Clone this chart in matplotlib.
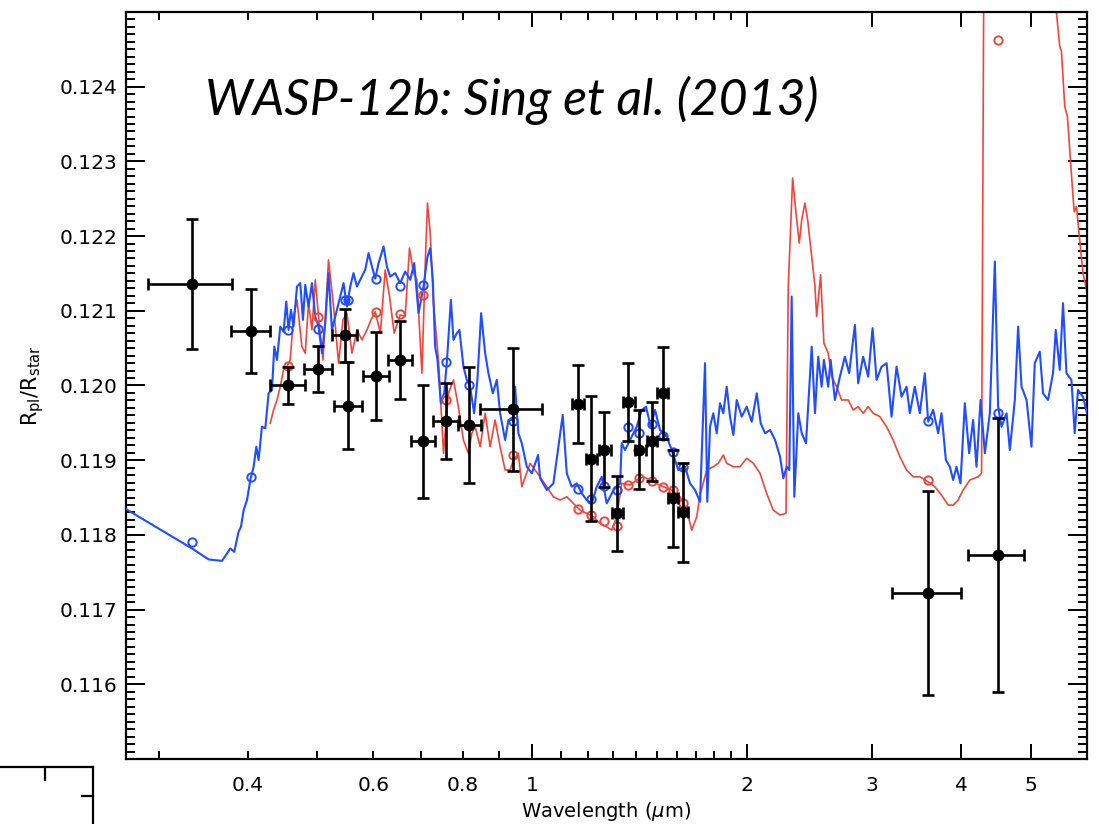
import matplotlib
matplotlib.use("Agg")
import matplotlib.pyplot as plt
import numpy as np
from matplotlib.lines import Line2D
from matplotlib.ticker import FixedLocator

# ---- measured transmission spectrum (binned) ----
wl = [0.334, 0.4045, 0.456, 0.5015, 0.547, 0.5535, 0.6046, 0.6534, 0.7035, 0.7591,
      0.8175, 0.9406, 1.162, 1.211, 1.264, 1.318, 1.3655, 1.415, 1.473, 1.526,
      1.576, 1.631, 3.594, 4.495]
wl_lo = [0.290, 0.379, 0.430, 0.480, 0.5245, 0.528, 0.5796, 0.6286, 0.6769, 0.7278,
         0.789, 0.8466, 1.140, 1.190, 1.242, 1.296, 1.341, 1.395, 1.449, 1.500,
         1.554, 1.605, 3.193, 4.088]
wl_hi = [0.380, 0.430, 0.481, 0.525, 0.5696, 0.579, 0.6306, 0.6798, 0.732, 0.7904,
         0.849, 1.0328, 1.185, 1.233, 1.290, 1.344, 1.395, 1.444, 1.500, 1.554,
         1.605, 1.658, 4.001, 4.892]
rp = [0.12136, 0.12073, 0.12000, 0.12022, 0.12067, 0.11973, 0.12013, 0.12034, 0.11925, 0.11952,
      0.11947, 0.11968, 0.11975, 0.11902, 0.11914, 0.11829, 0.11978, 0.11914, 0.11925, 0.11990,
      0.11849, 0.11830, 0.11722, 0.11773]
rp_err = [0.00087, 0.00056, 0.00025, 0.00031, 0.00035, 0.00058, 0.00059, 0.00052, 0.00076, 0.00051,
          0.00078, 0.00082, 0.00052, 0.00084, 0.00050, 0.00050, 0.00052, 0.00053, 0.00053, 0.00061,
          0.00065, 0.00066, 0.00137, 0.00183]

# ---- band-averaged model values at the data wavelengths ----
blue_binned = [0.11791, 0.11877, 0.12074, 0.12075, 0.12115, 0.12115, 0.12143, 0.12133, 0.12135, 0.12032,
               0.12001, 0.11952, 0.11862, 0.11848, 0.11865, 0.11860, 0.11945, 0.11937, 0.11949, 0.11933,
               0.11911, 0.11891, 0.11952, 0.11963]
red_binned = [np.nan, np.nan, 0.12026, 0.12092, np.nan, np.nan, 0.12099, 0.12095, 0.12121, 0.11981,
              np.nan, 0.11907, 0.11835, 0.11827, 0.11818, 0.11812, 0.11867, 0.11876, 0.11872, 0.11864,
              0.11860, 0.11842, 0.11873, 0.12463]

# ---- blue model spectrum ----
blue_wl = [0.270, 0.3340, 0.3525, 0.3680, 0.3739, 0.3780, 0.3828, 0.3882, 0.3912, 0.3946,
           0.3989, 0.4032, 0.4075, 0.4111, 0.4141, 0.4186, 0.4232, 0.4277, 0.4324, 0.4356,
           0.4394, 0.4441, 0.4488, 0.4528, 0.4561, 0.4597, 0.4635, 0.4687, 0.4737, 0.4778,
           0.4814, 0.4865, 0.4919, 0.4972, 0.5025, 0.5081, 0.5135, 0.5189, 0.5247, 0.5303,
           0.5389, 0.5447, 0.5507, 0.5566, 0.5625, 0.5688, 0.5748, 0.5842, 0.5905, 0.5970,
           0.6034, 0.6099, 0.6198, 0.6265, 0.6332, 0.6435, 0.6539, 0.6646, 0.6755, 0.6843,
           0.6938, 0.7050, 0.7142, 0.7205, 0.7266, 0.7320, 0.7376, 0.7456, 0.7537, 0.7603,
           0.7702, 0.7766, 0.7852, 0.7918, 0.8020, 0.8109, 0.8196, 0.8302, 0.8390, 0.8492,
           0.8602, 0.8694, 0.8818, 0.8933, 0.9028, 0.9175, 0.9273, 0.9406, 0.9476, 0.9577,
           0.9683, 0.9840, 1.000, 1.0205, 1.027, 1.0496, 1.0722, 1.1050, 1.1195, 1.1377,
           1.1563, 1.1749, 1.1941, 1.2134, 1.2331, 1.2531, 1.2735, 1.3015, 1.3299, 1.3366,
           1.3511, 1.3730, 1.4030, 1.4259, 1.4458, 1.4680, 1.4884, 1.5126, 1.5457, 1.5708,
           1.6045, 1.6397, 1.6663, 1.6934, 1.7209, 1.7489, 1.7619, 1.7774, 1.7963, 1.8163,
           1.8356, 1.8552, 1.8758, 1.8958, 1.9164, 1.9373, 1.9688, 2.0008, 2.0334, 2.0665,
           2.0933, 2.1229, 2.1574, 2.1925, 2.2281, 2.2518, 2.2763, 2.2957, 2.3132, 2.3330,
           2.3632, 2.3894, 2.4226, 2.4676, 2.4940, 2.5200, 2.5480, 2.5668, 2.6026, 2.6231,
           2.6596, 2.7028, 2.7467, 2.7849, 2.8367, 2.8669, 2.9135, 2.9608, 3.0034, 3.0424,
           3.0919, 3.1421, 3.1931, 3.2450, 3.2977, 3.3513, 3.3870, 3.4420, 3.4980, 3.5549,
           3.5936, 3.6520, 3.7113, 3.7518, 3.8047, 3.8541, 3.8952, 3.9374, 3.9885, 4.0448,
           4.1012, 4.1545, 4.2000, 4.2555, 4.3147, 4.3848, 4.4561, 4.5036, 4.5536, 4.6277,
           4.6770, 4.7531, 4.8037, 4.8571, 4.9361, 5.0154, 5.0688, 5.1512, 5.2061, 5.2906,
           5.3766, 5.4239, 5.4941, 5.5527, 5.6144, 5.7056, 5.7664, 5.8278, 5.9225, 6.000]
blue_rp = [0.118345, 0.117818, 0.117671, 0.117652, 0.117752, 0.117818, 0.117773, 0.118041, 0.118108, 0.118332,
           0.118466, 0.118734, 0.118912, 0.119180, 0.119002, 0.119448, 0.119427, 0.119896, 0.119940, 0.120520,
           0.120342, 0.120788, 0.120721, 0.121123, 0.120744, 0.121012, 0.120788, 0.121324, 0.121370, 0.120878,
           0.121347, 0.121056, 0.121370, 0.120922, 0.120788, 0.120432, 0.120834, 0.121504, 0.120744, 0.120922,
           0.121190, 0.121370, 0.121056, 0.121324, 0.121504, 0.121324, 0.121414, 0.121548, 0.121772, 0.121592,
           0.121431, 0.121638, 0.121860, 0.121592, 0.121458, 0.121504, 0.121370, 0.121525, 0.121414, 0.121638,
           0.120968, 0.121324, 0.121726, 0.121839, 0.121414, 0.120520, 0.120342, 0.119762, 0.119896, 0.120319,
           0.121146, 0.120610, 0.120700, 0.120744, 0.120252, 0.120074, 0.119984, 0.119628, 0.120074, 0.120968,
           0.120432, 0.120164, 0.119896, 0.120074, 0.119628, 0.119270, 0.119538, 0.119538, 0.119984, 0.119360,
           0.119226, 0.118912, 0.118824, 0.119069, 0.118761, 0.118600, 0.118690, 0.119605, 0.118824, 0.118644,
           0.118690, 0.118556, 0.118466, 0.118422, 0.118644, 0.118778, 0.118422, 0.118600, 0.118690, 0.119226,
           0.119136, 0.119270, 0.119448, 0.119672, 0.119716, 0.119448, 0.119672, 0.119404, 0.119314, 0.119136,
           0.118868, 0.118912, 0.118690, 0.118600, 0.118443, 0.120298, 0.118443, 0.119448, 0.119628, 0.119360,
           0.119762, 0.119628, 0.119984, 0.119582, 0.119337, 0.119806, 0.119582, 0.119716, 0.119515, 0.119896,
           0.119494, 0.119360, 0.119404, 0.119270, 0.119046, 0.118757, 0.118912, 0.118868, 0.121190, 0.118510,
           0.119628, 0.119360, 0.119226, 0.120520, 0.119628, 0.120386, 0.119984, 0.120342, 0.119984, 0.120342,
           0.119806, 0.120118, 0.120386, 0.120164, 0.120811, 0.120030, 0.120386, 0.120118, 0.120767, 0.120074,
           0.120252, 0.120298, 0.119582, 0.120252, 0.119850, 0.119984, 0.119628, 0.119984, 0.119628, 0.120164,
           0.119515, 0.119672, 0.119360, 0.119628, 0.119002, 0.118912, 0.118734, 0.118912, 0.118690, 0.119762,
           0.119092, 0.119538, 0.118912, 0.119806, 0.119092, 0.119628, 0.121659, 0.119716, 0.119448, 0.119628,
           0.119136, 0.119806, 0.120788, 0.119984, 0.119806, 0.119180, 0.120298, 0.120453, 0.119896, 0.119806,
           0.120164, 0.120744, 0.120208, 0.121102, 0.120164, 0.120074, 0.119360, 0.119940, 0.119850, 0.119628]

# ---- red model spectrum ----
red_wl = [0.4300, 0.4346, 0.4394, 0.4441, 0.4488, 0.4538, 0.4586, 0.4635, 0.4687, 0.4762,
          0.4814, 0.4865, 0.4919, 0.4972, 0.5025, 0.5098, 0.5189, 0.5275, 0.5360, 0.5437,
          0.5507, 0.5597, 0.5688, 0.5781, 0.5875, 0.5951, 0.6034, 0.6134, 0.6231, 0.6319,
          0.6414, 0.6539, 0.6646, 0.6739, 0.6827, 0.6901, 0.7015, 0.7091, 0.7142, 0.7205,
          0.7280, 0.7400, 0.7521, 0.7641, 0.7766, 0.7890, 0.8020, 0.8150, 0.8241, 0.8328,
          0.8466, 0.8602, 0.8742, 0.8883, 0.9028, 0.9175, 0.9324, 0.9423, 0.9577, 0.9683,
          0.9945, 1.0271, 1.0496, 1.0722, 1.0955, 1.1195, 1.1436, 1.1685, 1.1941, 1.2198,
          1.2465, 1.2735, 1.2942, 1.3152, 1.3366, 1.3730, 1.4030, 1.4330, 1.4800, 1.5286,
          1.5708, 1.6133, 1.6488, 1.6756, 1.7029, 1.7209, 1.7585, 1.7963, 1.8255, 1.8552,
          1.8758, 1.9164, 1.9581, 2.0008, 2.0442, 2.0885, 2.1335, 2.1797, 2.2281, 2.2712,
          2.2880, 2.3204, 2.3457, 2.3707, 2.3894, 2.4143, 2.4356, 2.4676, 2.4940, 2.5073,
          2.5398, 2.5668, 2.6026, 2.6316, 2.6743, 2.7178, 2.7760, 2.8211, 2.8669, 2.9135,
          2.9608, 3.0090, 3.0748, 3.1421, 3.2095, 3.2797, 3.3513, 3.4240, 3.4980, 3.5936,
          3.6714, 3.7518, 3.8330, 3.8952, 3.9582, 4.0225, 4.1104, 4.2225, 4.2692, 4.3048,
          4.8000, 5.3977, 5.4941, 5.5245, 5.5835, 5.6324, 5.6741, 5.7345, 5.7570, 5.7984,
          5.8601, 5.9225, 6.000]
red_rp = [0.119494, 0.119672, 0.119806, 0.119984, 0.120208, 0.120252, 0.120342, 0.120922, 0.121146, 0.120520,
          0.120432, 0.121102, 0.120744, 0.121414, 0.120922, 0.120342, 0.121682, 0.121056, 0.120298, 0.120878,
          0.120968, 0.120432, 0.120744, 0.120610, 0.120744, 0.120878, 0.120989, 0.120700, 0.121548, 0.121190,
          0.120700, 0.120945, 0.120922, 0.121839, 0.121504, 0.121414, 0.120164, 0.121638, 0.122442, 0.122040,
          0.121102, 0.120342, 0.119092, 0.119896, 0.120074, 0.119716, 0.119270, 0.119092, 0.119360, 0.119448,
          0.119180, 0.119628, 0.119180, 0.119538, 0.119180, 0.118868, 0.118868, 0.119002, 0.119092, 0.118644,
          0.118958, 0.118778, 0.118644, 0.118510, 0.118466, 0.118510, 0.118422, 0.118332, 0.118288, 0.118242,
          0.118154, 0.118108, 0.118064, 0.118242, 0.118690, 0.118667, 0.118734, 0.118778, 0.118711, 0.118644,
          0.118600, 0.118510, 0.118332, 0.118064, 0.118242, 0.118533, 0.118868, 0.118912, 0.118958, 0.119069,
          0.118958, 0.118912, 0.118912, 0.119025, 0.118958, 0.118824, 0.118556, 0.118332, 0.118265, 0.118288,
          0.121324, 0.122777, 0.122308, 0.121906, 0.122218, 0.122442, 0.122218, 0.121726, 0.121324, 0.120922,
          0.121481, 0.120566, 0.120432, 0.120118, 0.119984, 0.119806, 0.119806, 0.119672, 0.119716, 0.119628,
          0.119716, 0.119628, 0.119582, 0.119448, 0.119270, 0.119046, 0.118868, 0.118778, 0.118778, 0.118711,
          0.118644, 0.118533, 0.118399, 0.118399, 0.118466, 0.118600, 0.118734, 0.118778, 0.118824, 0.126500,
          0.128000, 0.125300, 0.124540, 0.124473, 0.123736, 0.123602, 0.123156, 0.122530, 0.122325, 0.122396,
          0.121950, 0.121504, 0.121253]

x_major = [1, 2, 3, 4, 5]
x_minor = [0.3, 0.4, 0.5, 0.6, 0.7, 0.8, 0.9, 1.1, 1.2, 1.3, 1.4, 1.5, 1.6, 1.7, 1.8, 1.9]
x_minor_labels = ["", "0.4", "", "0.6", "", "0.8", "", "", "", "", "", "", "", "", "", ""]
y_major = [0.116, 0.117, 0.118, 0.119, 0.120, 0.121, 0.122, 0.123, 0.124]

title_text = "WASP-12b: Sing et al. (2013)"
BLUE = "#1f4dff"
RED = "#f0463a"

fig = plt.figure(figsize=(10.99, 8.24), dpi=100)
ax = fig.add_axes([0.1147, 0.0789, 0.8744, 0.9066])

ax.plot(red_wl, red_rp, color=RED, lw=1.2, zorder=2)
ax.plot(blue_wl, blue_rp, color=BLUE, lw=1.5, zorder=3)

ax.plot(wl, red_binned, ls="none", marker="o", ms=6, mfc="none", mec=RED, mew=1.4, zorder=4)
ax.plot(wl, blue_binned, ls="none", marker="o", ms=6, mfc="none", mec=BLUE, mew=1.4, zorder=4)

xerr = [np.array(wl) - np.array(wl_lo), np.array(wl_hi) - np.array(wl)]
ax.errorbar(wl, rp, yerr=rp_err, xerr=xerr, fmt="o", color="black", ms=7.5,
            elinewidth=1.9, capsize=4.5, capthick=1.9, zorder=5)

ax.set_xscale("log")
ax.set_xlim(0.27, 6.0)
ax.set_ylim(0.115, 0.125)

ax.set_xticks(x_major, [str(v) for v in x_major])
ax.set_xticks(x_minor, x_minor_labels, minor=True)
ax.set_yticks(y_major, [f"{v:.3f}" for v in y_major])
ax.yaxis.set_minor_locator(FixedLocator(np.arange(0.1150, 0.12501, 0.0001)))

for s in ax.spines.values():
    s.set_linewidth(1.6)

ax.tick_params(axis="both", which="both", direction="in", top=True, right=True,
               labelsize=14.5, width=1.4, colors="black")
ax.tick_params(axis="x", which="major", length=11, pad=12)
ax.tick_params(axis="x", which="minor", length=5.5, pad=12)
ax.tick_params(axis="y", which="major", length=14, pad=6)
ax.tick_params(axis="y", which="minor", length=6.5, pad=6)

ax.set_xlabel(r"Wavelength ($\mu$m)", fontsize=14, labelpad=4)
ax.set_ylabel(r"$\mathrm{R_{pl}/R_{star}}$", fontsize=15, labelpad=10)

ax.text(0.082, 0.862, title_text, transform=ax.transAxes, fontsize=36,
        family="Lato", style="italic", ha="left", va="baseline")

# partial frame of a neighbouring panel in the lower-left corner
frame_kw = dict(color="black", lw=1.6, transform=fig.transFigure)
fig.add_artist(Line2D([0.0, 0.0846], [0.0692, 0.0692], **frame_kw))
fig.add_artist(Line2D([0.0846, 0.0846], [0.0692, 0.0], **frame_kw))
fig.add_artist(Line2D([0.041, 0.041], [0.0692, 0.0534], **frame_kw))
fig.add_artist(Line2D([0.0746, 0.0846], [0.034, 0.034], **frame_kw))

fig.savefig("out.png", dpi=100)
